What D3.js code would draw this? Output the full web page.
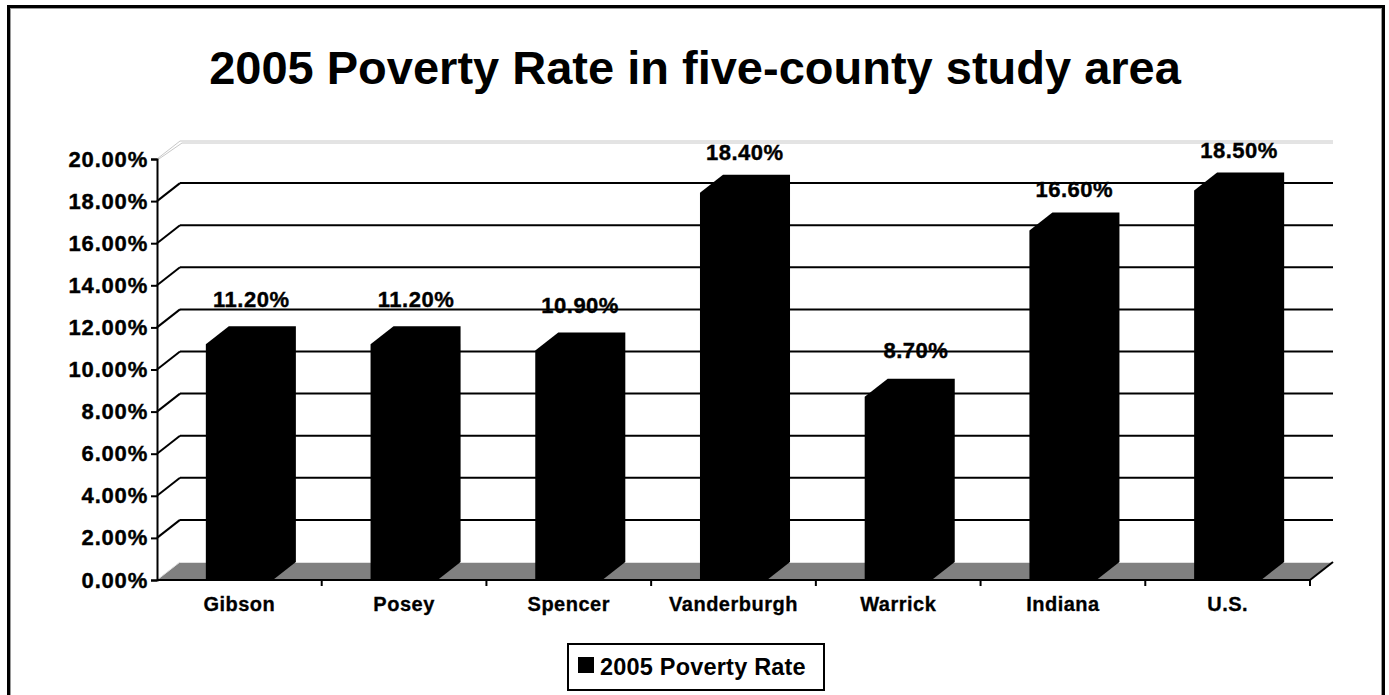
<!DOCTYPE html>
<html>
<head>
<meta charset="utf-8">
<script src="https://cdn.jsdelivr.net/npm/d3@7"></script>
<style>
  html, body { margin: 0; padding: 0; background: #fff; }
  svg { display: block; }
  text { font-family: "Liberation Sans", Arial, sans-serif; font-weight: bold; fill: #000; }
</style>
</head>
<body>
<script>
const categories = ["Gibson", "Posey", "Spencer", "Vanderburgh", "Warrick", "Indiana", "U.S."];
const povertyRate = [0.112, 0.112, 0.109, 0.184, 0.087, 0.166, 0.185];
const tickValues = [0, 0.02, 0.04, 0.06, 0.08, 0.10, 0.12, 0.14, 0.16, 0.18, 0.20];
const seriesName = "2005 Poverty Rate";
const titleText = "2005 Poverty Rate in five-county study area";

(function () {
const W = 1389, H = 695;
const svg = d3.select("body").append("svg").attr("width", W).attr("height", H);

// outer frame
svg.append("rect").attr("x", 8.5).attr("y", 6.5).attr("width", 1375).attr("height", 700)
  .attr("fill", "#fff").attr("stroke", "#000").attr("stroke-width", 3);
svg.append("rect").attr("x", 10.5).attr("y", 8.5).attr("width", 1371).attr("height", 700)
  .attr("fill", "none").attr("stroke", "#9a9a9a").attr("stroke-width", 1);

// title
svg.append("text").attr("x", 695).attr("y", 84).attr("text-anchor", "middle")
  .style("font-size", "47px").text(titleText);

const pLeft = 157, pRight = 1310, pBottom = 580, pTop = 159;
const DX = 23, DY = 18;

const x = d3.scaleBand().domain(categories).range([pLeft, pRight]).padding(0);
const y = d3.scaleLinear().domain([0, 0.20]).range([pBottom, pTop]);
const barW = x.bandwidth() * 0.407;

// floor
const floor = d3.path();
floor.moveTo(pLeft, pBottom); floor.lineTo(pRight, pBottom);
floor.lineTo(pRight + DX, pBottom - DY); floor.lineTo(pLeft + DX, pBottom - DY); floor.closePath();
svg.append("path").attr("d", floor.toString()).attr("fill", "#808080").attr("stroke", "none");
svg.append("line").attr("x1", pLeft + DX).attr("x2", pRight + DX).attr("y1", pBottom - DY + 0.5).attr("y2", pBottom - DY + 0.5)
  .attr("stroke", "#e0e0e0").attr("stroke-width", 1);
svg.append("line").attr("x1", pLeft).attr("y1", pBottom).attr("x2", pLeft + DX).attr("y2", pBottom - DY)
  .attr("stroke", "#e0e0e0").attr("stroke-width", 1);

// gridlines on back wall + diagonals on side wall
const gridVals = tickValues.filter(v => v > 0 && v < 0.20);
svg.append("g").selectAll("line").data(gridVals).join("line")
  .attr("x1", pLeft + DX).attr("x2", pRight + DX)
  .attr("y1", d => y(d) - DY).attr("y2", d => y(d) - DY)
  .attr("stroke", "#000").attr("stroke-width", 2);
svg.append("g").selectAll("line").data(gridVals).join("line")
  .attr("x1", pLeft).attr("x2", pLeft + DX)
  .attr("y1", d => y(d)).attr("y2", d => y(d) - DY)
  .attr("stroke", "#000").attr("stroke-width", 2);
// top edges (light gray double line)
[0, 2].forEach(o => {
  svg.append("line").attr("x1", pLeft + DX + o).attr("x2", pRight + DX)
    .attr("y1", y(0.20) - DY + o).attr("y2", y(0.20) - DY + o)
    .attr("stroke", "#c8c8c8").attr("stroke-width", 1);
  svg.append("line").attr("x1", pLeft + o * 0.5).attr("x2", pLeft + DX + o)
    .attr("y1", y(0.20) + o * 0.3).attr("y2", y(0.20) - DY + o)
    .attr("stroke", "#c8c8c8").attr("stroke-width", 1);
});

// front baseline and right diagonal
svg.append("line").attr("x1", pLeft).attr("x2", pRight).attr("y1", pBottom).attr("y2", pBottom)
  .attr("stroke", "#000").attr("stroke-width", 2);
svg.append("line").attr("x1", pRight).attr("x2", pRight + DX).attr("y1", pBottom).attr("y2", pBottom - DY)
  .attr("stroke", "#000").attr("stroke-width", 2);
// category boundary ticks
const bounds = categories.map(c => x(c)).concat([pRight]);
svg.append("g").selectAll("line").data(bounds.slice(1)).join("line")
  .attr("x1", d => d).attr("x2", d => d).attr("y1", pBottom).attr("y2", pBottom + 6)
  .attr("stroke", "#000").attr("stroke-width", 2);

// bars (3D solid black)
const data = categories.map((c, i) => ({ c, v: povertyRate[i] }));
svg.append("g").selectAll("path").data(data).join("path")
  .attr("d", d => {
    const cx = x(d.c) + x.bandwidth() / 2;
    const x0 = cx - barW / 2, x1 = cx + barW / 2, yt = y(d.v);
    const p = d3.path();
    p.moveTo(x0, pBottom); p.lineTo(x0, yt); p.lineTo(x0 + DX, yt - DY);
    p.lineTo(x1 + DX, yt - DY); p.lineTo(x1 + DX, pBottom - DY); p.lineTo(x1, pBottom); p.closePath();
    return p.toString();
  })
  .attr("fill", "#000");

// value labels
svg.append("g").selectAll("text").data(data).join("text")
  .attr("x", d => x(d.c) + 132.5)
  .attr("y", d => y(d.v) - (44.7 - 66 * d.v))
  .attr("text-anchor", "end").style("font-size", "22px").style("letter-spacing", "0.5px")
  .attr("stroke", "#000").attr("stroke-width", 0.4)
  .text(d => d3.format(".2%")(d.v));

// y axis
const yAxis = d3.axisLeft(y).tickValues(tickValues).tickFormat(d3.format(".2%")).tickSize(6).tickPadding(3);
const gy = svg.append("g").attr("transform", `translate(${pLeft},0)`).call(yAxis);
gy.selectAll("path, line").attr("stroke", "#000").attr("stroke-width", 2);
gy.selectAll("text").style("font-size", "22px").style("letter-spacing", "0.8px")
  .attr("stroke", "#000").attr("stroke-width", 0.4)
  .style("font-family", "Liberation Sans, Arial, sans-serif").style("font-weight", "bold");

// category labels
svg.append("g").selectAll("text").data(categories).join("text")
  .attr("x", d => x(d) + x.bandwidth() / 2)
  .attr("y", 611)
  .attr("text-anchor", "middle").style("font-size", "20px").style("letter-spacing", "0.5px")
  .attr("stroke", "#000").attr("stroke-width", 0.3)
  .text(d => d);

// legend
const lg = svg.append("g");
lg.append("rect").attr("x", 568).attr("y", 644).attr("width", 256).attr("height", 46)
  .attr("fill", "#fff").attr("stroke", "#000").attr("stroke-width", 2);
lg.append("rect").attr("x", 578).attr("y", 657).attr("width", 16).attr("height", 16).attr("fill", "#000");
lg.append("text").attr("x", 600).attr("y", 675).style("font-size", "23.5px").style("letter-spacing", "0.2px").text(seriesName);
})();
</script>
</body>
</html>
